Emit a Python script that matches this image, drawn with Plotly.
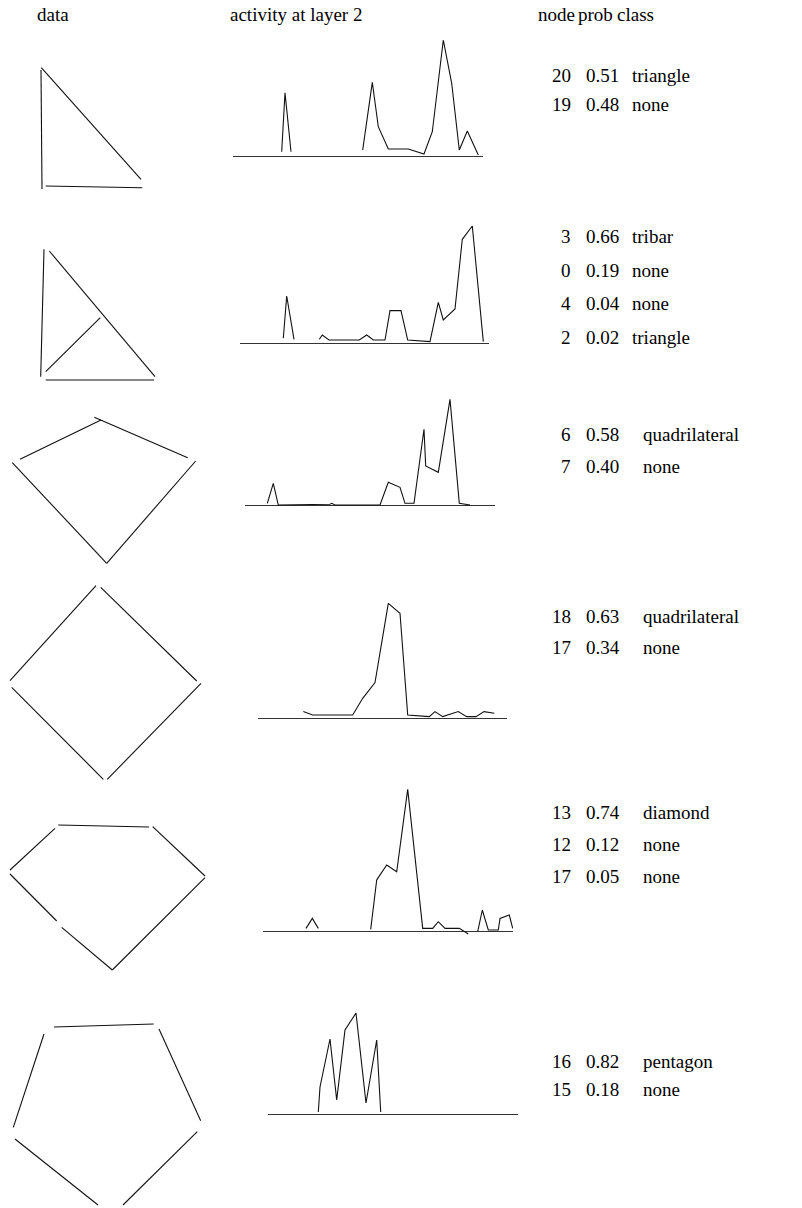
import plotly.graph_objects as go

W, H = 802, 1208
FONT = "Liberation Serif"
FS = 19

# ---------------- data ----------------
headers = ["data", "activity at layer 2", "node", "prob", "class"]

table_nodes = [[20, 19], [3, 0, 4, 2], [6, 7], [18, 17], [13, 12, 17], [16, 15]]
table_probs = [["0.51", "0.48"], ["0.66", "0.19", "0.04", "0.02"], ["0.58", "0.40"],
               ["0.63", "0.34"], ["0.74", "0.12", "0.05"], ["0.82", "0.18"]]
table_classes = [["triangle", "none"], ["tribar", "none", "none", "triangle"],
                 ["quadrilateral", "none"], ["quadrilateral", "none"],
                 ["diamond", "none", "none"], ["pentagon", "none"]]

# shape drawings: segments (x0, y0, x1, y1) in drawing units (y downward)
shape_triangle = [(41, 70, 42, 189), (41.3, 67.7, 141, 179.3), (45.7, 186, 142.3, 187.7)]
shape_tribar = [(44, 249.3, 40.7, 376.7), (49.3, 251, 155, 376.7),
                (45.7, 371.7, 100.3, 317.7), (45.7, 380, 154, 380)]
shape_quad = [(20, 459.3, 101, 420), (94.3, 417.3, 187.7, 457.7),
              (12.3, 462.7, 106.7, 563.3), (195.7, 461, 106.7, 563.3)]
shape_square = [(10, 680.7, 96, 585.7), (100.7, 587.3, 196.7, 681),
                (11.7, 687.3, 103.3, 779.3), (201, 683.3, 107.3, 779.3)]
shape_gem = [(58.3, 825, 149, 827), (55, 828.3, 10, 870), (152.7, 826.7, 205, 876),
             (10, 874, 56.7, 921), (61.7, 927.3, 112.3, 970), (205, 877.7, 112.3, 970)]
shape_pent = [(54, 1027, 153.7, 1024), (44, 1034, 13.3, 1127.3), (159, 1029, 200.7, 1120.7),
              (15, 1139, 98, 1205), (197.3, 1131.7, 123, 1205)]
shapes_data = [shape_triangle, shape_tribar, shape_quad, shape_square, shape_gem, shape_pent]

# activity traces (position along layer, activity); None = gap
act1_x = [48.4, 51.7, 57.7, None, 129.4, 139, 145, 155, 175, 190.7, 199, 210, 218.4, 226, 234, 245]
act1_y = [4.3, 63.3, 4.3, None, 6, 73.7, 29.3, 7, 7, 2, 24.3, 116, 72.7, 6, 25, 1]
act2_x = [43.3, 46.7, 54, None, 79.3, 82.3, 89, 119.3, 126.7, 133.3, 145, 150, 161, 167.7,
          190, 198.3, 203.3, 215, 222.3, 232.3, 243.3]
act2_y = [5, 47.3, 4, None, 4, 8.3, 3.3, 3.3, 8.3, 3.3, 3.3, 32.7, 32.7, 3.3,
          1.7, 41, 23.3, 34.3, 104, 117.3, 1.7]
act3_x = [22.3, 28.3, 33.3, 85, 86.7, 90, 135, 143.3, 155, 160, 169, 179, 180.7, 193.3, 205, 214.3, 225]
act3_y = [1.7, 21.7, 0, 0.7, 1.7, 0, 0, 22.7, 17.7, 1.7, 1.7, 75.7, 39, 32.7, 105.7, 1.7, 0]
act4_x = [45, 54.4, 94.4, 104.4, 116.7, 130, 141.7, 149.4, 171, 176.7, 184.4, 200, 208.4, 217.7, 225.7, 236]
act4_y = [6.7, 3.3, 3.3, 20, 35.7, 115, 105, 3.3, 1.7, 6.7, 1.7, 6.7, 1.7, 1.7, 6.7, 5]
act5_x = [43.3, 49.6, 55.6, None, 108, 114, 115, 124, 134, 145, 160, 170, 175.6, 182.3, 196.6, 205.6,
          None, 215, 219.6, 225.6, 235.6, 237.3, 246.6, 250]
act5_y = [3.3, 13.3, 3.3, None, 2.3, 51.7, 53.3, 66.7, 60, 142.3, 3.3, 3.3, 10, 3.3, 3.3, -2.3,
          None, 0, 21.7, 1.7, 1.7, 13.3, 16.7, 3.3]
act6_x = [50.3, 52, 62, 68.7, 77, 88, 98, 108.7, 112.7]
act6_y = [2, 27, 75, 14, 84, 101, 11, 74, 2]
acts = [(act1_x, act1_y), (act2_x, act2_y), (act3_x, act3_y),
        (act4_x, act4_y), (act5_x, act5_y), (act6_x, act6_y)]

# ---------------- layout ----------------
act_boxes = [(233.3, 483.3, 156), (240, 489.3, 343.3), (245, 495, 505),
             (258.3, 506.7, 718.3), (262.7, 513.3, 931.7), (268, 518, 1114)]
table_pos = [(76, 28), (237, 33.5), (434, 32), (616, 31), (812, 32), (1061, 28)]
YTOP = 148


def px(x):
    return x / W


def py(y):
    return min(1.0, max(0.0, 1 - y / H))


fig = go.Figure()
layout = dict(width=W, height=H, margin=dict(l=0, r=0, t=0, b=0), autosize=False,
              paper_bgcolor="white", plot_bgcolor="rgba(0,0,0,0)", showlegend=False)


def ax_names(i):
    return ("x" if i == 1 else f"x{i}"), ("y" if i == 1 else f"y{i}")


ax_i = 1
xa, ya = ax_names(ax_i)
layout["xaxis"] = dict(domain=[0, px(215)], range=[0, 215], visible=False, fixedrange=True)
layout["yaxis"] = dict(domain=[0, 1], range=[H, 0], visible=False, fixedrange=True)
for segs in shapes_data:
    xs, ys = [], []
    for (x0, y0, x1, y1) in segs:
        xs += [x0, x1, None]
        ys += [y0, y1, None]
    fig.add_trace(go.Scatter(x=xs, y=ys, mode="lines", xaxis=xa, yaxis=ya,
                             line=dict(color="#111", width=1.1), hoverinfo="skip"))

for (ax_x, ax_y), (l, r, base) in zip(acts, act_boxes):
    ax_i += 1
    xa, ya = ax_names(ax_i)
    top = base - YTOP
    bottom = base + 10
    layout[f"xaxis{ax_i}"] = dict(domain=[px(l), px(r)], range=[0, r - l], visible=False,
                                  fixedrange=True, anchor=ya)
    layout[f"yaxis{ax_i}"] = dict(domain=[py(bottom), py(top)], range=[-10, YTOP],
                                  showgrid=False, showticklabels=False, ticks="",
                                  zeroline=True, zerolinecolor="#333", zerolinewidth=1.3,
                                  showline=False, fixedrange=True, anchor=xa)
    fig.add_trace(go.Scatter(x=ax_x, y=ax_y, mode="lines", xaxis=xa, yaxis=ya,
                             connectgaps=False, cliponaxis=False,
                             line=dict(color="#111", width=1.1), hoverinfo="skip"))

annos = []
PAD = 2


def txt(x, y, s, anchor="left"):
    xx = x - PAD if anchor == "left" else x + PAD
    annos.append(dict(x=px(xx), y=py(y), xref="paper", yref="paper", text=s,
                      showarrow=False, xanchor=anchor, yanchor="middle",
                      font=dict(family=FONT, size=FS, color="black")))


txt(37, 15, headers[0])
txt(230, 15, headers[1])
txt(538, 15, headers[2])
txt(578, 15, headers[3])
txt(617, 15, headers[4])

for k, (nodes, probs, classes) in enumerate(zip(table_nodes, table_probs, table_classes)):
    y0, dy = table_pos[k]
    cls_x = 632 if k < 2 else 643
    for j, (n, p, c) in enumerate(zip(nodes, probs, classes)):
        y = y0 + j * dy
        txt(571, y, str(n), "right")
        txt(586, y, p)
        txt(cls_x, y, c)

layout["annotations"] = annos
fig.update_layout(**layout)
fig.write_html("out.html", config={"displayModeBar": False},
               post_script="document.body.style.margin='0';document.body.style.overflow='hidden';")
